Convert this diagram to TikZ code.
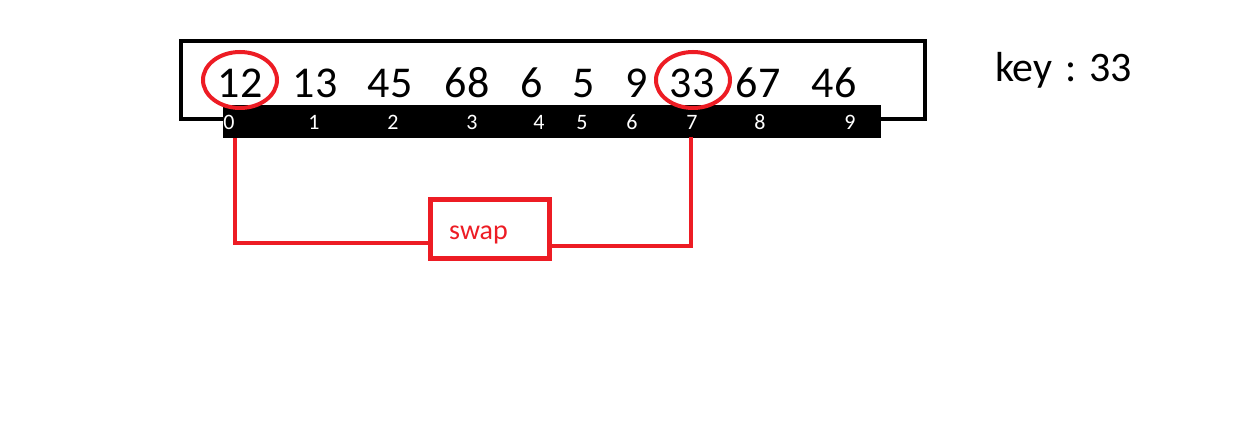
\documentclass[tikz,border=0pt]{standalone}
\usepackage{fontspec}
\setmainfont{Carlito}
\usetikzlibrary{shapes.geometric}
\definecolor{pred}{HTML}{ED1C24}
\tikzset{
  num/.style={anchor=base, font=\fontsize{44}{48}\selectfont, inner sep=0pt},
  idx/.style={anchor=base, font=\fontsize{22}{24}\selectfont, text=white, inner sep=0pt},
  hilite/.style={ellipse, draw=pred, line width=4pt, minimum width=74pt, minimum height=56pt, inner sep=0pt},
  redline/.style={draw=pred, line width=4pt},
}
\begin{document}
\begin{tikzpicture}[x=1pt,y=-1pt]
\useasboundingbox[fill=white] (0,0) rectangle (1247,422);
% outer box
\draw[line width=4pt] (180.5,41.5) rectangle (924.5,119);
% index bar
\fill[black] (223,105) rectangle (881,138);
% numbers
\node[num] (n0) at (240,98) {12};
\node[num] (n1) at (315,98) {13};
\node[num] (n2) at (390,98) {45};
\node[num] (n3) at (467,98) {68};
\node[num] (n4) at (532,98) {6};
\node[num] (n5) at (584,98) {5};
\node[num] (n6) at (637,98) {9};
\node[num] (n7) at (692,98) {33};
\node[num] (n8) at (758,98) {67};
\node[num] (n9) at (834,98) {46};
% indices
\node[idx] (i0) at (229,130) {0};
\node[idx] (i1) at (314,130) {1};
\node[idx] (i2) at (393,130) {2};
\node[idx] (i3) at (472,130) {3};
\node[idx] (i4) at (539,130) {4};
\node[idx] (i5) at (582,130) {5};
\node[idx] (i6) at (632,130) {6};
\node[idx] (i7) at (692,130) {7};
\node[idx] (i8) at (760,130) {8};
\node[idx] (i9) at (850,130) {9};
% highlight ellipses
\node[hilite] (c0) at (240,80) {};
\node[hilite] (c7) at (693,80) {};
% key
\node[anchor=base west, font=\fontsize{42}{46}\selectfont, inner sep=0pt] (key) at (995,82) {key\hspace{0.3em}:\hspace{0.3em}33};
% swap box
\node[draw=pred, line width=5pt, minimum width=119pt, minimum height=58pt, inner sep=0pt] (swap) at (489.5,229) {};
\node[anchor=base west, text=pred, font=\fontsize{28}{32}\selectfont, inner sep=0pt] (swaptxt) at (449,239) {swap};
% connectors
\coordinate (la) at (235,138);
\coordinate (lb) at (235,243);
\coordinate (ra) at (691,137);
\coordinate (rb) at (693,246);
\draw[redline] (la) -- (lb) -- (lb -| swap.west);
\draw[redline] (ra) -- (ra |- rb) -- (rb -| swap.east);
\end{tikzpicture}
\end{document}
